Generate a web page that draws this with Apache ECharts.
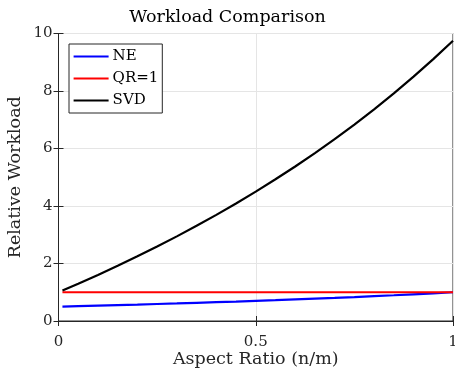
<!DOCTYPE html>
<html><head><meta charset="utf-8">
<script src="https://cdn.jsdelivr.net/npm/echarts@6/dist/echarts.min.js"></script>
<style>html,body{margin:0;padding:0;background:#fff}#c{width:455px;height:373px}</style>
</head><body><div id="c"></div>
<script>
const ratio = [0.01,0.05,0.1,0.15,0.2,0.25,0.3,0.35,0.4,0.45,0.5,0.55,0.6,0.65,0.7,0.75,0.8,0.85,0.9,0.95,1.0];
const neVals = [0.503,0.517,0.535,0.553,0.571,0.591,0.611,0.632,0.654,0.676,0.700,0.724,0.750,0.777,0.804,0.833,0.864,0.895,0.929,0.963,1.000];
const qrVals = [1,1,1,1,1,1,1,1,1,1,1,1,1,1,1,1,1,1,1,1,1];
const svdVals = [1.058,1.297,1.603,1.921,2.250,2.591,2.944,3.311,3.692,4.088,4.500,4.929,5.375,5.840,6.326,6.833,7.364,7.919,8.500,9.110,9.750];
const seriesNames = ['NE','QR=1','SVD'];
const xTicks = [0,0.5,1];
const yTicks = [0,2,4,6,8,10];

const F = 'DejaVu Serif';
const ink = '#262626';
function pairs(xs, ys){ return xs.map((x,i)=>[x,ys[i]]); }
const chart = echarts.init(document.getElementById('c'), null, {renderer:'canvas'});
const baseX = {type:'value', min:0, max:1, interval:0.5};
const baseY = {type:'value', min:0, max:10, interval:2};
chart.setOption({
  animation:false,
  title:{text:'Workload Comparison', left:'center', top:8, padding:0,
    textStyle:{fontFamily:F, fontSize:17.5, fontWeight:'normal', color:'#000'}},
  grid:{left:58.5, right:2, top:33.5, bottom:52, outerBoundsMode:'none', containLabel:false,
    show:true, borderColor:ink, borderWidth:1, backgroundColor:'#fff'},
  legend:{orient:'vertical', left:69, top:44, padding:[5,4,5,3.5], itemGap:7, itemWidth:35, itemHeight:14,
    backgroundColor:'#fff', borderColor:ink, borderWidth:1, borderRadius:0,
    itemStyle:{opacity:0}, lineStyle:{width:2.2},
    textStyle:{fontFamily:F, fontSize:15, color:'#000', padding:[0,0,0,-1]}, data:seriesNames},
  xAxis:[
    Object.assign({}, baseX, {position:'bottom', name:'Aspect Ratio (n/m)', nameLocation:'middle', nameGap:29, nameMoveOverlap:false,
      nameTextStyle:{fontFamily:F, fontSize:17.5, color:'#262626'},
      axisLine:{show:true, lineStyle:{color:ink}}, axisTick:{show:true, inside:true, length:5, lineStyle:{color:ink}},
      axisLabel:{fontFamily:F, fontSize:15, color:'#262626', margin:14, formatter:v=>xTicks.includes(v)?String(v):''},
      splitLine:{show:true, lineStyle:{color:'#e5e5e5', width:1}}}),
    Object.assign({}, baseX, {position:'top', axisLine:{show:true, lineStyle:{color:ink}},
      axisTick:{show:true, inside:true, length:5, lineStyle:{color:ink}}, axisLabel:{show:false}, splitLine:{show:false}})
  ],
  yAxis:[
    Object.assign({}, baseY, {position:'left', name:'Relative Workload', nameLocation:'middle', nameGap:34, nameMoveOverlap:false,
      nameTextStyle:{fontFamily:F, fontSize:17.5, color:'#262626'},
      axisLine:{show:true, lineStyle:{color:ink}}, axisTick:{show:true, inside:true, length:5, lineStyle:{color:ink}},
      axisLabel:{fontFamily:F, fontSize:15, color:'#262626', margin:6, formatter:v=>yTicks.includes(v)?String(v):''},
      splitLine:{show:true, lineStyle:{color:'#e5e5e5', width:1}}}),
    Object.assign({}, baseY, {position:'right', axisLine:{show:true, lineStyle:{color:ink}},
      axisTick:{show:true, inside:true, length:5, lineStyle:{color:ink}}, axisLabel:{show:false}, splitLine:{show:false}})
  ],
  series:[
    {name:seriesNames[0], type:'line', data:pairs(ratio, neVals), symbol:'none', lineStyle:{color:'#0000ff', width:2.2}, itemStyle:{color:'#0000ff'}},
    {name:seriesNames[1], type:'line', data:pairs(ratio, qrVals), symbol:'none', lineStyle:{color:'#ff0000', width:2.2}, itemStyle:{color:'#ff0000'}},
    {name:seriesNames[2], type:'line', data:pairs(ratio, svdVals), symbol:'none', lineStyle:{color:'#000000', width:2.2}, itemStyle:{color:'#000000'}}
  ]
});
</script></body></html>
